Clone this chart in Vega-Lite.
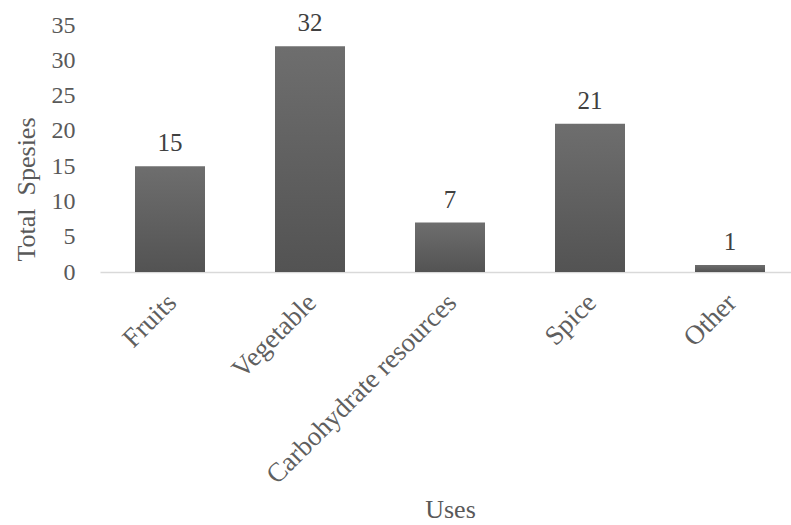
{
  "$schema": "https://vega.github.io/schema/vega-lite/v6.json",
  "width": 700,
  "height": 247,
  "autosize": {"type": "none"},
  "padding": {"left": 100, "top": 25, "right": -9, "bottom": 253},
  "background": "white",
  "config": {
    "view": {"stroke": null},
    "font": "Liberation Serif"
  },
  "data": {
    "values": [
      {"use": "Fruits", "species": 15},
      {"use": "Vegetable", "species": 32},
      {"use": "Carbohydrate resources", "species": 7},
      {"use": "Spice", "species": 21},
      {"use": "Other", "species": 1}
    ]
  },
  "encoding": {
    "x": {
      "field": "use",
      "type": "nominal",
      "sort": null,
      "scale": {"paddingInner": 0.5, "paddingOuter": 0.25},
      "axis": {
        "title": "Uses",
        "titleFont": "Liberation Serif",
        "titleFontSize": 26,
        "titleFontWeight": "normal",
        "titleColor": "#595959",
        "titleY": 237,
        "titleBaseline": "middle",
        "labelAngle": -45,
        "labelAlign": "right",
        "labelBaseline": "top",
        "labelOffset": -7,
        "labelPadding": 17,
        "labelLimit": 500,
        "labelOverlap": false,
        "labelBound": false,
        "labelFont": "Liberation Serif",
        "labelFontSize": 27,
        "labelColor": "#5f5f5f",
        "ticks": false,
        "domainColor": "#d9d9d9",
        "domainWidth": 1.5,
        "grid": false
      }
    },
    "y": {
      "field": "species",
      "type": "quantitative",
      "scale": {"domain": [0, 35], "nice": false},
      "axis": {
        "title": "Total\u00a0 Spesies",
        "titleFont": "Liberation Serif",
        "titleFontSize": 26,
        "titleFontWeight": "normal",
        "titleColor": "#595959",
        "titleAngle": 270,
        "titleX": -74,
        "titleY": 164,
        "titleAlign": "center",
        "titleBaseline": "middle",
        "values": [0, 5, 10, 15, 20, 25, 30, 35],
        "labelFont": "Liberation Serif",
        "labelFontSize": 24,
        "labelColor": "#595959",
        "labelPadding": 25,
        "ticks": false,
        "domain": false,
        "grid": false
      }
    }
  },
  "layer": [
    {
      "mark": {
        "type": "bar",
        "color": {
          "gradient": "linear",
          "x1": 0, "y1": 0, "x2": 0, "y2": 1,
          "stops": [
            {"offset": 0, "color": "#6e6e6e"},
            {"offset": 1, "color": "#535353"}
          ]
        }
      }
    },
    {
      "mark": {
        "type": "text",
        "baseline": "alphabetic",
        "dy": -15,
        "fontSize": 25,
        "font": "Liberation Serif",
        "color": "#404040"
      },
      "encoding": {
        "text": {"field": "species", "type": "quantitative"}
      }
    }
  ]
}
